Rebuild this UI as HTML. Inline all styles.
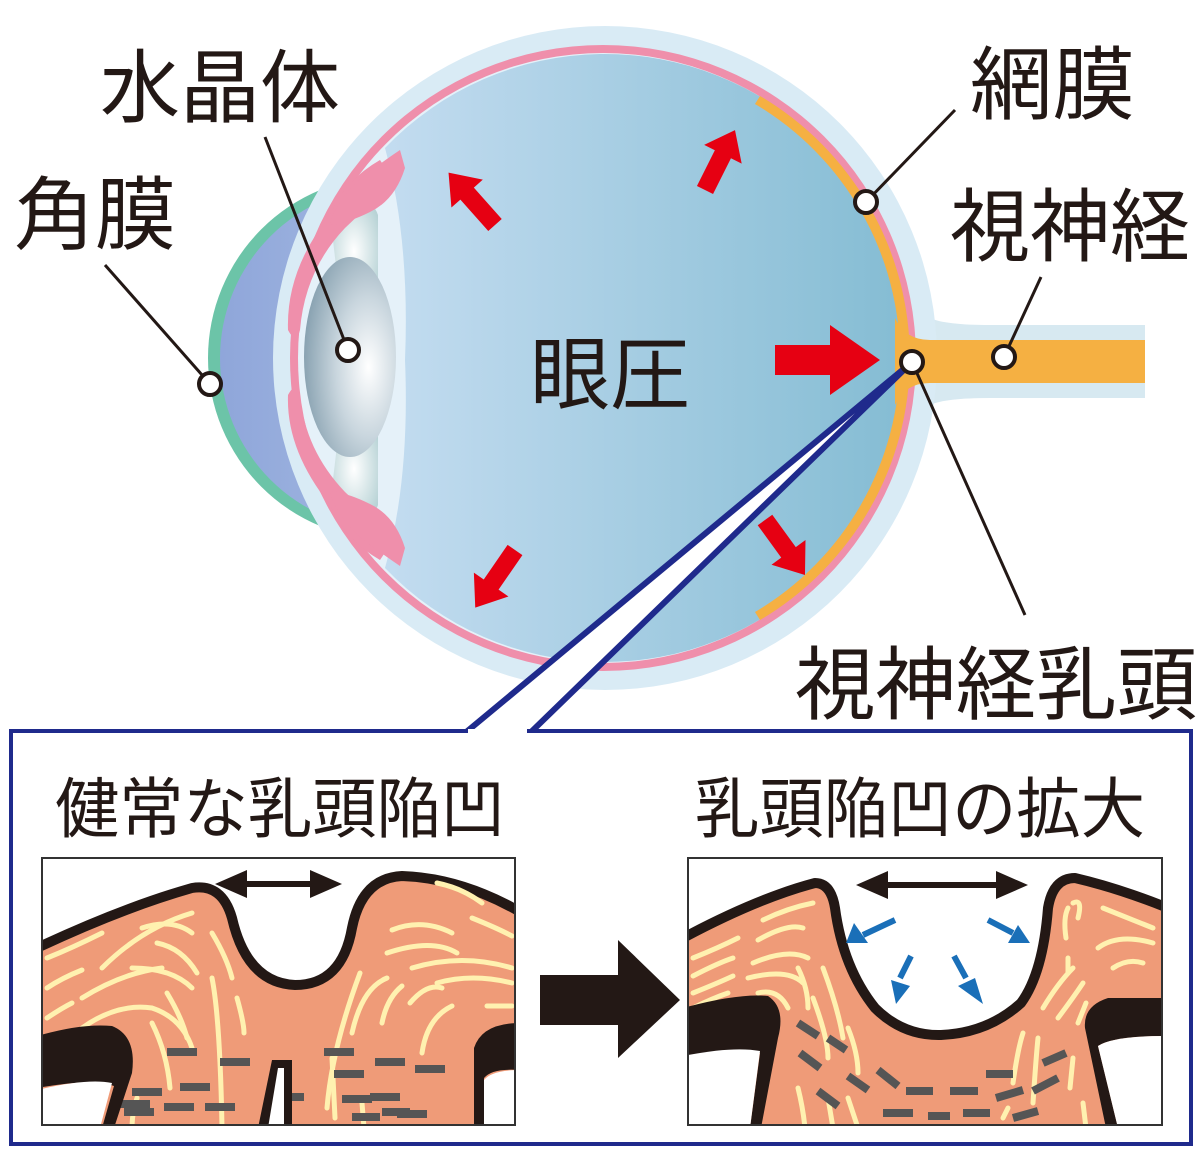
<!DOCTYPE html>
<html><head><meta charset="utf-8"><style>
html,body{margin:0;padding:0;background:#fff;}
svg{display:block}
text{font-family:"Liberation Sans","Noto Sans CJK JP",sans-serif;fill:#231815;}
</style></head><body>
<svg width="1200" height="1153" viewBox="0 0 1200 1153" xmlns="http://www.w3.org/2000/svg">
<defs>
<linearGradient id="vit" x1="0" x2="1" y1="0" y2="0">
<stop offset="0" stop-color="#c3dcf0"/><stop offset="1" stop-color="#84bcd3"/></linearGradient>
<linearGradient id="cor" x1="0" x2="1"><stop offset="0" stop-color="#8fa6da"/><stop offset="1" stop-color="#b7cbe8"/></linearGradient>
<radialGradient id="lens" cx="0.7" cy="0.55" r="0.7"><stop offset="0" stop-color="#ffffff"/><stop offset="0.5" stop-color="#c9d6de"/><stop offset="1" stop-color="#8aa3b2"/></radialGradient>
<radialGradient id="cil" cx="0.5" cy="0.5" r="0.6"><stop offset="0" stop-color="#ffffff"/><stop offset="1" stop-color="#b8d3d6"/></radialGradient>
</defs>

<path d="M880,270 Q920,300 930,318 Q945,325 990,325 L1145,325 L1145,398 L990,398 Q945,398 930,405 Q915,430 880,460 Z" fill="#d7e9f1"/>
<circle cx="390" cy="358" r="182" fill="#6cc4a8"/>
<circle cx="392" cy="358" r="172" fill="url(#cor)"/>
<circle cx="605" cy="358" r="332" fill="#d9ebf5"/>
<circle cx="603" cy="358" r="313" fill="#ef8fab"/>
<circle cx="603" cy="358" r="305" fill="#e5f1f9"/>
<path d="M385,148 A304 304 0 1 1 385,568 Q410,480 405,360 Q410,240 385,148 Z" fill="url(#vit)"/>
<path d="M760,96 A304 304 0 0 1 760,620 L755,612 A295 295 0 0 0 755,104 Z" fill="#f5b042"/>
<path d="M895,318 Q905,340 930,340 L1145,340 L1145,383 L930,383 Q905,383 895,405 Z" fill="#f5b042"/>
<path d="M330,215 Q370,190 378,215 L378,300 L340,300 Z" fill="url(#cil)"/>
<path d="M330,505 Q370,530 378,505 L378,420 L340,420 Z" fill="url(#cil)"/>
<ellipse cx="350" cy="357" rx="46" ry="100" fill="url(#lens)"/>
<path d="M288,330 Q286,270 330,215 Q345,180 380,160 L392,178 Q370,205 345,228 Q305,270 300,330 Q296,345 288,330Z" fill="#ef8fab"/>
<path d="M288,395 Q286,450 330,505 Q345,540 380,560 L392,542 Q370,515 345,492 Q305,450 300,395 Q296,380 288,395Z" fill="#ef8fab"/>
<path d="M330,222 Q340,195 365,175 Q385,160 400,150 L405,168 Q395,200 370,212 Q350,222 332,225Z" fill="#ef8fab"/>
<path d="M330,494 Q340,521 365,541 Q385,556 400,566 L405,548 Q395,516 370,504 Q350,494 332,491Z" fill="#ef8fab"/>

<g fill="#e60012">
<path d="M0,-15 L55,-15 L55,-35 L105,0 L55,35 L55,15 L0,15Z" transform="translate(775,360)"/>
<path d="M0,-9 L42,-9 L42,-21 L70,0 L42,21 L42,9 L0,9Z" transform="translate(495,225) rotate(-131.6)"/>
<path d="M0,-9 L40,-9 L40,-21 L67,0 L40,21 L40,9 L0,9Z" transform="translate(705,190) rotate(-63.4)"/>
<path d="M0,-9 L40,-9 L40,-21 L68,0 L40,21 L40,9 L0,9Z" transform="translate(765,520) rotate(54)"/>
<path d="M0,-9 L42,-9 L42,-21 L70,0 L42,21 L42,9 L0,9Z" transform="translate(515,550) rotate(124.6)"/>
</g>

<path d="M912,362 L465,733 L530,733 Z" fill="#fff" stroke="#1f2a8c" stroke-width="6" stroke-linejoin="round"/>
<rect x="11" y="731" width="1180" height="413" fill="#fff" stroke="#1f2a8c" stroke-width="4"/>
<path d="M468,733 L527,733" stroke="#fff" stroke-width="8"/>

<g stroke="#231815" stroke-width="3" fill="none">
<line x1="265" y1="137" x2="348" y2="350"/>
<line x1="105" y1="265" x2="210" y2="384"/>
<line x1="955" y1="110" x2="866" y2="202"/>
<line x1="1041" y1="277" x2="1004" y2="357"/>
<line x1="1025" y1="615" x2="912" y2="362"/>
</g>
<g fill="#fff" stroke="#231815" stroke-width="4">
<circle cx="348" cy="350" r="11"/><circle cx="210" cy="384" r="11"/>
<circle cx="866" cy="202" r="11"/><circle cx="1004" cy="357" r="11"/>
<circle cx="912" cy="362" r="11"/>
</g>

<g font-size="80">
<text x="100" y="116" textLength="240" lengthAdjust="spacingAndGlyphs">水晶体</text>
<text x="14" y="243" textLength="162" lengthAdjust="spacingAndGlyphs">角膜</text>
<text x="970" y="113" textLength="165" lengthAdjust="spacingAndGlyphs">網膜</text>
<text x="950" y="255" textLength="240" lengthAdjust="spacingAndGlyphs">視神経</text>
<text x="530" y="403" textLength="160" lengthAdjust="spacingAndGlyphs">眼圧</text>
<text x="795" y="713" textLength="402" lengthAdjust="spacingAndGlyphs">視神経乳頭</text>
</g>
<g font-size="66">
<text x="55" y="832" textLength="450" lengthAdjust="spacingAndGlyphs">健常な乳頭陥凹</text>
<text x="695" y="832" textLength="450" lengthAdjust="spacingAndGlyphs">乳頭陥凹の拡大</text>
</g>

<path d="M540,975 L618,975 L618,940 L680,1000 L618,1058 L618,1025 L540,1025Z" fill="#231815"/>

<svg x="42" y="858" width="473" height="267" viewBox="0 0 473 267" overflow="hidden">
<path d="M-5,90 Q80,50 150,30 Q180,25 190,60 Q205,125 253,127 Q300,127 310,70 Q320,20 360,18 Q420,20 480,55 L480,275 L-5,275Z" fill="#ef9b78" stroke="#231815" stroke-width="10" stroke-linejoin="round"/>
<g stroke="#fff1b0" stroke-width="5" fill="none" stroke-linecap="round">
<path d="M5,100 Q30,90 60,75"/><path d="M60,110 Q100,70 150,55"/><path d="M40,140 Q80,115 120,110"/>
<path d="M5,130 Q20,120 40,112"/><path d="M5,160 Q20,150 30,145"/><path d="M40,170 Q75,145 110,150 Q140,160 150,190"/>
<path d="M100,70 Q130,60 150,75"/><path d="M115,85 Q140,90 155,115"/><path d="M170,75 Q185,100 190,120"/>
<path d="M90,110 Q130,110 150,130"/><path d="M125,135 Q140,160 145,180"/><path d="M170,120 Q178,160 180,270"/>
<path d="M195,140 Q202,165 202,175"/><path d="M110,165 Q125,195 128,230"/><path d="M95,240 Q90,255 90,270"/>
<path d="M285,250 Q290,190 318,115"/><path d="M310,175 Q320,130 345,120"/><path d="M340,165 Q345,140 360,128"/>
<path d="M368,145 Q385,125 400,130"/><path d="M380,195 Q385,160 410,148"/><path d="M350,72 Q380,60 410,75"/>
<path d="M345,95 Q390,80 415,95"/><path d="M370,110 Q420,95 470,110"/><path d="M395,125 Q430,115 470,125"/>
<path d="M395,25 Q420,30 440,45"/><path d="M430,60 Q455,70 470,78"/><path d="M445,148 L470,148"/>
<path d="M290,200 Q292,240 293,260"/><path d="M320,245 L322,270"/>
</g>
<g fill="#555"><rect x="125" y="190" width="30" height="8"/><rect x="78" y="242" width="30" height="8"/>
<rect x="178" y="200" width="30" height="8"/><rect x="232" y="235" width="30" height="8"/>
<rect x="282" y="190" width="30" height="8"/><rect x="90" y="230" width="30" height="8"/>
<rect x="138" y="225" width="30" height="8"/><rect x="82" y="250" width="30" height="8"/>
<rect x="122" y="245" width="30" height="8"/><rect x="163" y="245" width="30" height="8"/>
<rect x="292" y="212" width="30" height="8"/><rect x="333" y="200" width="30" height="8"/>
<rect x="373" y="207" width="30" height="8"/><rect x="328" y="235" width="30" height="8"/>
<rect x="300" y="237" width="30" height="8"/><rect x="355" y="252" width="30" height="8"/>
<rect x="340" y="250" width="28" height="8"/><rect x="310" y="255" width="28" height="8"/></g>
<path d="M-5,178 Q40,165 70,168 Q95,178 90,215 L72,270 L60,270 L72,228 Q50,220 -5,230Z" fill="#231815"/>
<path d="M-5,232 Q45,220 70,225 L58,270 L-5,270Z" fill="#fff"/>
<path d="M478,165 Q440,165 432,190 L432,270 L442,270 L442,220 Q450,210 478,212Z" fill="#231815"/>
<path d="M478,212 Q450,212 442,222 L442,270 L478,270Z" fill="#fff"/>
<path d="M216,270 L230,202 L250,202 L250,270Z" fill="#231815"/>
<path d="M226,270 L236,210 L242,210 L242,270Z" fill="#fff"/>
<path d="M183,26 L290,26" stroke="#231815" stroke-width="6"/>
<path d="M173,26 L205,12 L205,40Z M300,26 L268,12 L268,40Z" fill="#231815"/>
</svg>
<rect x="42" y="858" width="473" height="267" fill="none" stroke="#333" stroke-width="2"/>

<svg x="688" y="858" width="474" height="267" viewBox="0 0 474 267" overflow="hidden">
<path d="M-5,80 Q70,40 127,25 Q143,25 147,50 Q155,110 187,150 Q215,178 253,177 Q300,175 333,145 Q355,115 360,50 Q365,20 387,20 Q430,30 480,50 L480,275 L-5,275Z" fill="#ef9b78" stroke="#231815" stroke-width="10" stroke-linejoin="round"/>
<g stroke="#fff1b0" stroke-width="5" fill="none" stroke-linecap="round">
<path d="M5,100 Q30,90 50,80"/><path d="M5,118 Q30,105 45,100"/><path d="M5,135 Q30,125 45,118"/><path d="M5,150 Q25,140 40,135"/>
<path d="M75,62 Q100,50 125,45"/><path d="M70,82 Q100,65 115,70"/><path d="M65,105 Q100,90 120,100"/>
<path d="M60,120 Q100,110 115,125"/><path d="M70,135 Q90,130 100,150"/><path d="M110,110 Q120,130 120,150"/>
<path d="M135,110 Q150,150 155,180"/><path d="M125,140 Q140,180 140,200"/><path d="M160,170 Q170,195 170,215"/>
<path d="M110,230 Q115,250 117,270"/><path d="M140,240 L145,270"/><path d="M160,240 Q165,255 170,270"/>
<path d="M380,50 Q375,60 378,80"/><path d="M385,45 Q395,40 390,60"/><path d="M415,50 Q440,60 465,70"/>
<path d="M410,90 Q430,75 465,85"/><path d="M425,110 Q440,100 455,105"/><path d="M380,100 L380,115"/>
<path d="M355,150 Q370,125 385,110"/><path d="M370,160 Q385,140 395,125"/><path d="M390,165 L398,145"/>
<path d="M325,225 Q330,190 335,175"/><path d="M345,245 Q348,200 350,180"/><path d="M382,230 L385,200"/>
<path d="M315,260 L320,250"/><path d="M395,245 L398,270"/>
</g>
<g stroke="#555" stroke-width="8">
<path d="M110,165 L130,178"/><path d="M140,180 L158,192"/><path d="M112,195 L132,210"/>
<path d="M160,218 L180,232"/><path d="M190,212 L210,228"/><path d="M130,233 L150,248"/>
<path d="M218,233 L245,233"/><path d="M262,233 L290,233"/><path d="M298,216 L325,216"/>
<path d="M195,255 L225,255"/><path d="M240,258 L262,258"/><path d="M275,255 L302,255"/>
<path d="M308,240 L335,232"/><path d="M345,233 L370,220"/><path d="M355,205 L378,195"/><path d="M325,260 L350,253"/>
</g>
<path d="M-5,150 Q50,135 80,138 Q98,150 90,180 L73,270 L62,270 L72,195 Q40,192 -5,198Z" fill="#231815"/>
<path d="M-5,198 Q45,188 72,193 L62,270 L-5,270Z" fill="#fff"/>
<path d="M478,140 L420,140 Q395,148 397,170 L418,270 L430,270 L410,188 Q425,178 478,178Z" fill="#231815"/>
<path d="M478,178 Q425,178 410,188 L430,270 L478,270Z" fill="#fff"/>
<path d="M185,27 L310,27" stroke="#231815" stroke-width="6"/>
<path d="M168,27 L200,13 L200,41Z M340,27 L308,13 L308,41Z" fill="#231815"/>
<g stroke="#1a6fb8" stroke-width="6">
<path d="M207,62 L175,77"/><path d="M223,98 L212,120"/><path d="M266,98 L278,120"/><path d="M300,62 L325,75"/>
</g>
<g fill="#1a6fb8">
<path d="M158,85 L166,65 L180,85Z"/>
<path d="M208,146 L203,122 L222,128Z"/>
<path d="M295,146 L270,128 L287,120Z"/>
<path d="M342,85 L320,85 L330,67Z"/>
</g>
</svg>
<rect x="688" y="858" width="474" height="267" fill="none" stroke="#333" stroke-width="2"/>
</svg>
</body></html>
